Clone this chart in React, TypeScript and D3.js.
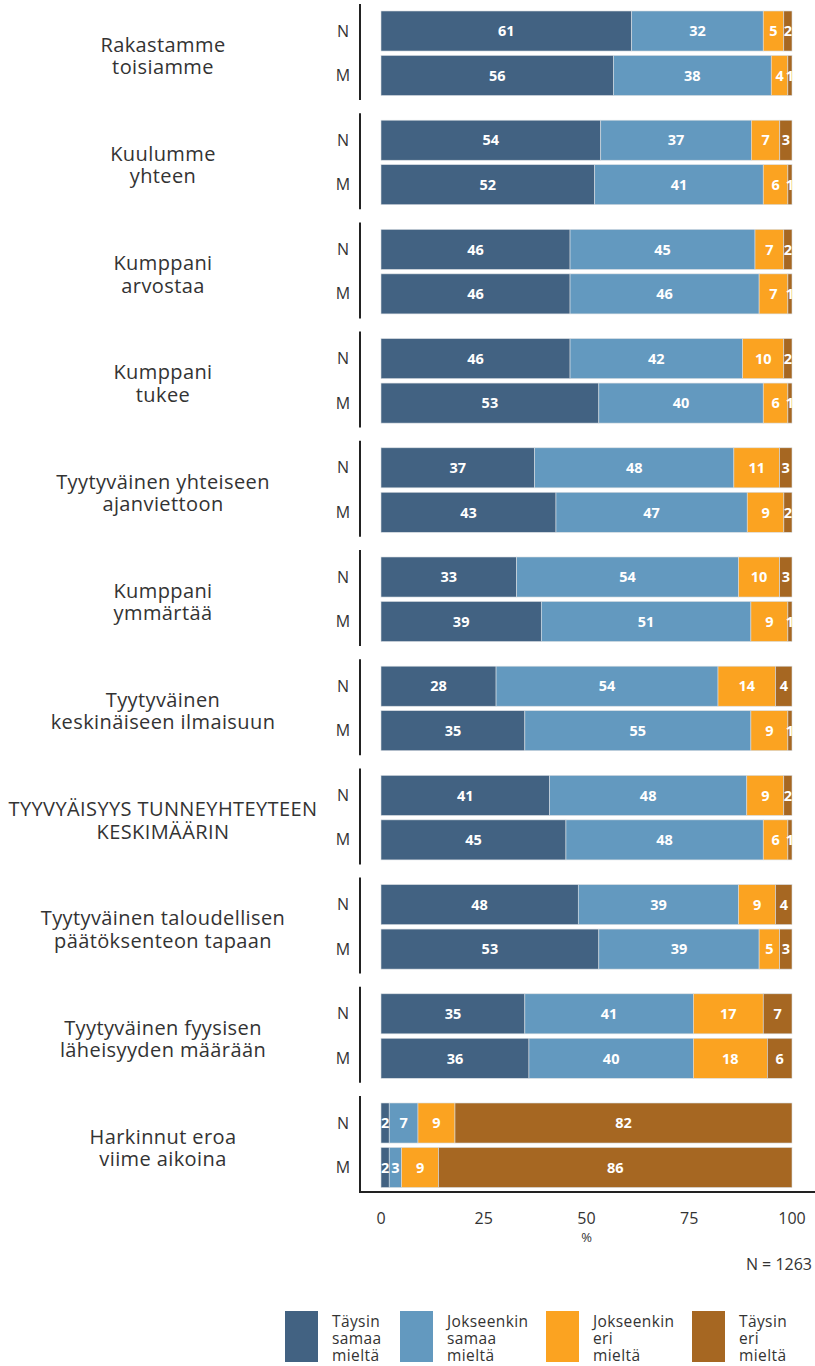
import React from "react";
import * as d3 from "d3";

const categories = [
  ["Rakastamme", "toisiamme"],
  ["Kuulumme", "yhteen"],
  ["Kumppani", "arvostaa"],
  ["Kumppani", "tukee"],
  ["Tyytyväinen yhteiseen", "ajanviettoon"],
  ["Kumppani", "ymmärtää"],
  ["Tyytyväinen", "keskinäiseen ilmaisuun"],
  ["TYYVYÄISYYS TUNNEYHTEYTEEN", "KESKIMÄÄRIN"],
  ["Tyytyväinen taloudellisen", "päätöksenteon tapaan"],
  ["Tyytyväinen fyysisen", "läheisyyden määrään"],
  ["Harkinnut eroa", "viime aikoina"],
];

const groups = ["N", "M"];

const valuesN = [
  [61, 32, 5, 2],
  [54, 37, 7, 3],
  [46, 45, 7, 2],
  [46, 42, 10, 2],
  [37, 48, 11, 3],
  [33, 54, 10, 3],
  [28, 54, 14, 4],
  [41, 48, 9, 2],
  [48, 39, 9, 4],
  [35, 41, 17, 7],
  [2, 7, 9, 82],
];

const valuesM = [
  [56, 38, 4, 1],
  [52, 41, 6, 1],
  [46, 46, 7, 1],
  [53, 40, 6, 1],
  [43, 47, 9, 2],
  [39, 51, 9, 1],
  [35, 55, 9, 1],
  [45, 48, 6, 1],
  [53, 39, 5, 3],
  [36, 40, 18, 6],
  [2, 3, 9, 86],
];

const seriesLabels = [
  ["Täysin", "samaa", "mieltä"],
  ["Jokseenkin", "samaa", "mieltä"],
  ["Jokseenkin", "eri", "mieltä"],
  ["Täysin", "eri", "mieltä"],
];
const colors = ["#426282", "#6399bf", "#fba321", "#a66722"];
const xTicks = [0, 25, 50, 75, 100];

const FONT = "'Open Sans', sans-serif";
const TEXT = "#333";

export default function App() {
  const W = 815, H = 1366;
  const x = d3.scaleLinear().domain([0, 100]).range([381, 792]);
  const step = 109.2;
  const top0 = 4;
  const band = d3.scaleBand().domain(groups).range([7, 91.5]).paddingInner(0.1).paddingOuter(0);
  const axisX = 360;
  const axisY = 1192;

  const rows = categories.map((c, i) => {
    const gy = top0 + i * step;
    return { c, i, gy, data: [valuesN[i], valuesM[i]] };
  });

  return (
    <div style={{ position: "absolute", left: 0, top: 0, background: "#fff" }}>
      <svg width={W} height={H} style={{ display: "block", fontFamily: FONT }}>
        <defs>
          <clipPath id="plotclip">
            <rect x={x(0)} y={0} width={x(100) - x(0)} height={H} />
          </clipPath>
        </defs>
        <rect width={W} height={H} fill="#fff" />
        {rows.map(({ c, i, gy, data }) => {
          const isLast = i === rows.length - 1;
          const centerY = gy + 52;
          return (
            <g key={i}>
              <line x1={axisX} x2={axisX} y1={gy} y2={isLast ? axisY : gy + 96} stroke="#222" strokeWidth={2} />
              {c.map((ln, k) => (
                <text key={k} x={163} y={centerY + (k - 0.5) * 22.5} dy="0.35em" textAnchor="middle" fontSize={20} letterSpacing={0.4} fill={TEXT}>
                  {ln}
                </text>
              ))}
              {groups.map((g, gi) => {
                const vals = data[gi];
                const sum = d3.sum(vals);
                const cum = d3.cumsum(vals).map((v) => (v / sum) * 100);
                const y0 = gy + band(g)!;
                const bh = band.bandwidth();
                return (
                  <g key={g}>
                    <text x={343} y={y0 + bh / 2} dy="0.35em" textAnchor="middle" fontSize={16} fill={TEXT}>
                      {g}
                    </text>
                    {vals.map((v, si) => {
                      const a = si === 0 ? 0 : cum[si - 1];
                      const b = cum[si];
                      return (
                        <rect key={si} x={x(a)} y={y0} width={x(b) - x(a)} height={bh} fill={colors[si]} stroke="#d8dde2" strokeWidth={0.6} />
                      );
                    })}
                    <g clipPath="url(#plotclip)">
                      {vals.map((v, si) => {
                        const a = si === 0 ? 0 : cum[si - 1];
                        const b = cum[si];
                        return (
                          <text key={si} x={(x(a) + x(b)) / 2} y={y0 + bh / 2} dy="0.36em" textAnchor="middle" fontSize={14.5} fontWeight={700} fill="#fff">
                            {v}
                          </text>
                        );
                      })}
                    </g>
                  </g>
                );
              })}
            </g>
          );
        })}
        <line x1={axisX - 1} x2={W} y1={axisY} y2={axisY} stroke="#222" strokeWidth={2} />
        {xTicks.map((t) => (
          <text key={t} x={x(t)} y={1218} dy="0.35em" textAnchor="middle" fontSize={16} fill={TEXT}>
            {t}
          </text>
        ))}
        <text x={x(50)} y={1237} dy="0.35em" textAnchor="middle" fontSize={13} fill={TEXT}>%</text>
        <text x={812} y={1264} dy="0.35em" textAnchor="end" fontSize={16} fill={TEXT}>N = 1263</text>
        {seriesLabels.map((lab, i) => {
          const lx = [285, 400, 546, 692][i];
          return (
            <g key={i}>
              <rect x={lx} y={1311} width={33} height={51} fill={colors[i]} />
              {lab.map((ln, k) => (
                <text key={k} x={lx + 47} y={1327 + k * 17} fontSize={15.5} letterSpacing={0.4} fill={TEXT}>
                  {ln}
                </text>
              ))}
            </g>
          );
        })}
      </svg>
    </div>
  );
}
